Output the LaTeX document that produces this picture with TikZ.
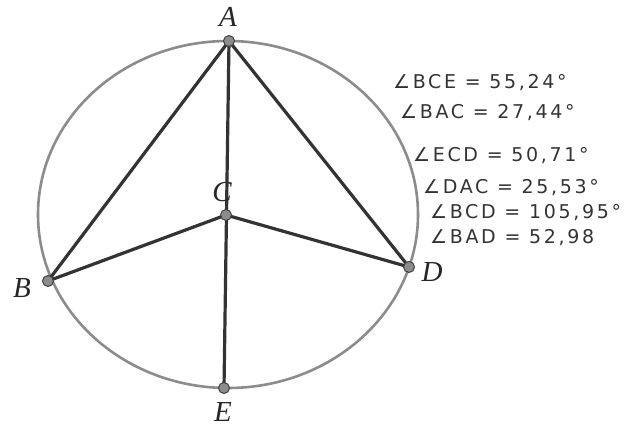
\documentclass[tikz,border=0pt]{standalone}
\usepackage{fontspec}
\setmainfont{Liberation Serif}
\newfontfamily\hand[LetterSpace=14]{DejaVu Sans}
\begin{document}
\begin{tikzpicture}[x=1pt,y=-1pt,
  seg/.style={draw=black!80, line width=3.2pt},
  rim/.style={draw=black!45, line width=2.6pt},
  pt/.style={circle, fill=black!45, draw=black!75, line width=1pt, minimum size=11pt, inner sep=0pt},
  lab/.style={font=\fontsize{29}{31}\selectfont\itshape, text=black!85, inner sep=0pt},
  meas/.style={font=\hand\fontsize{19}{21}\selectfont, text=black!80, anchor=west, inner sep=0pt}]
\useasboundingbox (0,0) rectangle (643,427);
\draw[rim] (228,214.5) ellipse [x radius=190, y radius=173.5];
\coordinate (A) at (229,41);
\coordinate (B) at (48,281);
\coordinate (C) at (226,215);
\coordinate (D) at (409,267);
\coordinate (E) at (224,388);
\draw[seg] (B) -- (A) -- (D) -- (C) -- (B);
\draw[seg] (A) -- (E);
\foreach \p in {A,B,C,D,E} \node[pt] (p\p) at (\p) {};
\node[lab] (lA) at (228,17) {A};
\node[lab] (lB) at (22,288) {B};
\node[lab] (lC) at (222,192) {C};
\node[lab] (lD) at (432,272) {D};
\node[lab] (lE) at (223,412) {E};
\node[meas] (m1) at (393,83) {∠BCE = 55,24°};
\node[meas] (m2) at (400,113) {∠BAC = 27,44°};
\node[meas] (m3) at (413,156) {∠ECD = 50,71°};
\node[meas] (m4) at (423,188) {∠DAC = 25,53°};
\node[meas] (m5) at (430,213) {∠BCD = 105,95°};
\node[meas] (m6) at (430,238) {∠BAD = 52,98};
\end{tikzpicture}
\end{document}
